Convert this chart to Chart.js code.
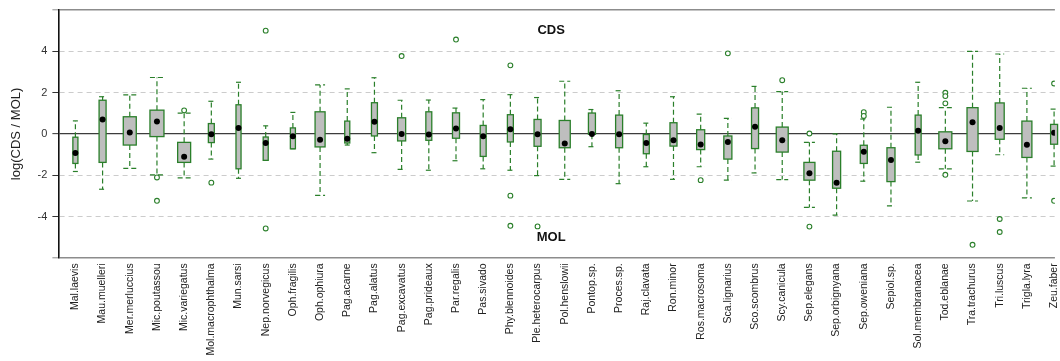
<!DOCTYPE html>
<html>
<head>
<meta charset="utf-8">
<script src="https://cdn.jsdelivr.net/npm/chart.js@4.4.1/dist/chart.umd.min.js"></script>
<style>
  html, body { margin: 0; padding: 0; background: #ffffff; overflow: hidden; }
  canvas { display: block; }
</style>
</head>
<body>
<canvas id="c" width="1060" height="361"></canvas>
<script>
// Species (x categories)
const species = [
  'Mal.laevis', 'Mau.muelleri', 'Mer.merluccius', 'Mic.poutassou', 'Mic.variegatus',
  'Mol.macrophthalma', 'Mun.sarsi', 'Nep.norvegicus', 'Oph.fragilis', 'Oph.ophiura',
  'Pag.acarne', 'Pag.alatus', 'Pag.excavatus', 'Pag.prideaux', 'Par.regalis',
  'Pas.sivado', 'Phy.blennoides', 'Ple.heterocarpus', 'Pol.henslowii', 'Pontop.sp.',
  'Proces.sp.', 'Raj.clavata', 'Ron.minor', 'Ros.macrosoma', 'Sca.lignarius',
  'Sco.scombrus', 'Scy.canicula', 'Sep.elegans', 'Sep.orbignyana', 'Sep.oweniana',
  'Sepiol.sp.', 'Sol.membranacea', 'Tod.eblanae', 'Tra.trachurus', 'Tri.luscus',
  'Trigla.lyra', 'Zeu.faber'
];

// Box statistics of log(CDS/MOL) per species
const lowerWhisker = [
  -1.82, -2.68, -1.67, -1.98, -2.13, -1.22, -2.15, -1.28, -0.72, -2.98,
  -0.54, -0.91, -1.72, -1.76, -1.30, -1.69, -1.76, -2.02, -2.20, -0.62,
  -2.41, -1.59, -2.20, -1.59, -2.24, -1.89, -2.21, -3.56, -3.93, -2.29,
  -3.49, -1.37, -1.69, -3.25, -1.01, -3.10, -1.56
];
const lowerHinge = [
  -1.43, -1.38, -0.54, -0.13, -1.38, -0.42, -1.69, -1.28, -0.72, -0.63,
  -0.44, -0.10, -0.34, -0.31, -0.21, -1.09, -0.39, -0.60, -0.67, -0.02,
  -0.67, -0.96, -0.59, -0.76, -1.22, -0.71, -0.88, -2.24, -2.63, -1.43,
  -2.31, -1.02, -0.72, -0.85, -0.26, -1.14, -0.50
];
const upperHinge = [
  -0.16, 1.63, 0.83, 1.15, -0.41, 0.50, 1.41, -0.15, 0.29, 1.07,
  0.62, 1.51, 0.78, 1.07, 1.02, 0.41, 0.93, 0.70, 0.65, 1.01,
  0.91, -0.03, 0.54, 0.20, -0.10, 1.26, 0.33, -1.38, -0.84, -0.55,
  -0.67, 0.91, 0.10, 1.27, 1.50, 0.62, 0.46
];
const upperWhisker = [
  0.63, 1.80, 1.89, 2.73, 1.01, 1.58, 2.50, 0.39, 1.04, 2.37,
  2.18, 2.72, 1.63, 1.64, 1.25, 1.66, 1.90, 1.76, 2.55, 1.18,
  2.09, 0.52, 1.80, 0.96, 0.75, 2.30, 2.05, -0.41, 0.00, 0.72,
  1.29, 2.50, 1.27, 4.00, 3.87, 2.21, 1.20
];
const means = [
  -0.93, 0.70, 0.07, 0.60, -1.11, -0.02, 0.29, -0.44, -0.11, -0.28,
  -0.24, 0.59, 0.00, -0.03, 0.26, -0.11, 0.23, -0.02, -0.47, 0.00,
  -0.02, -0.44, -0.31, -0.51, -0.39, 0.35, -0.31, -1.90, -2.36, -0.86,
  -1.27, 0.15, -0.36, 0.57, 0.28, -0.52, 0.05
];
// Number of observations per species (sets box width)
const sampleSizes = [
  13, 25, 86, 100, 86, 18, 13, 13, 13, 51,
  13, 18, 33, 18, 25, 18, 18, 25, 62, 25,
  25, 18, 25, 33, 33, 25, 73, 62, 33, 25,
  33, 18, 86, 62, 41, 51, 25
];
const outliers = [
  [], [], [], [-2.11, -3.24], [1.14], [-2.36], [], [5.00, -4.58], [], [],
  [], [], [3.77], [], [4.57], [], [3.32, -2.99, -4.45], [-4.48], [], [],
  [], [], [], [-2.24], [3.90], [], [2.60], [0.02, -4.49], [], [1.05, 0.87],
  [], [], [1.99, 1.83, 1.48, -1.98], [-5.37], [-4.12, -4.75], [], [2.44, -3.24]
];
const yTickValues = [-6, -4, -2, 0, 2, 4, 6];

const FONT = '"Liberation Sans", Arial, Helvetica, sans-serif';
const X_MIN = 0.374;
const X_MAX = 37.03;
const BOX_MAX_WIDTH = 0.515; // in x units, for the largest sample
const maxN = Math.max(...sampleSizes);
const GREEN = '#2a7f2a';

// Draws whiskers, staples and boxes on the chart's scales
const boxPlotPlugin = {
  id: 'boxPlot',
  beforeDatasetsDraw(chart) {
    const { ctx } = chart;
    const xs = chart.scales.x, ys = chart.scales.y;
    const line = (x1, y1, x2, y2) => { ctx.beginPath(); ctx.moveTo(x1, y1); ctx.lineTo(x2, y2); ctx.stroke(); };
    ctx.save();
    species.forEach((name, i) => {
      const pos = i + 1;
      const w = BOX_MAX_WIDTH * Math.sqrt(sampleSizes[i] / maxN);
      const left = xs.getPixelForValue(pos - w / 2);
      const right = xs.getPixelForValue(pos + w / 2);
      const cx = xs.getPixelForValue(pos);
      const yLo = ys.getPixelForValue(lowerWhisker[i]);
      const yQ1 = ys.getPixelForValue(lowerHinge[i]);
      const yQ3 = ys.getPixelForValue(upperHinge[i]);
      const yHi = ys.getPixelForValue(upperWhisker[i]);

      ctx.strokeStyle = GREEN;
      ctx.lineWidth = 1.2;
      ctx.setLineDash([5, 3]);
      line(cx, yQ3, cx, yHi);
      line(cx, yQ1, cx, yLo);
      line(left, yHi, right, yHi);
      line(left, yLo, right, yLo);

      ctx.setLineDash([]);
      ctx.fillStyle = '#bebebe';
      ctx.fillRect(left, yQ3, right - left, yQ1 - yQ3);
      ctx.lineWidth = 1.3;
      ctx.strokeRect(left, yQ3, right - left, yQ1 - yQ3);
    });

    ctx.fillStyle = '#111';
    ctx.font = 'bold 13px ' + FONT;
    ctx.textAlign = 'center';
    ctx.textBaseline = 'middle';
    ctx.fillText('CDS', xs.getPixelForValue(18.5), ys.getPixelForValue(5));
    ctx.fillText('MOL', xs.getPixelForValue(18.5), ys.getPixelForValue(-5));
    ctx.restore();
  }
};

const tickVal = c => (c.tick ? c.tick.value : null);

new Chart(document.getElementById('c'), {
  type: 'scatter',
  data: {
    datasets: [
      {
        label: 'mean',
        data: means.map((v, i) => ({ x: i + 1, y: v })),
        pointRadius: 3,
        pointBackgroundColor: '#000',
        pointBorderColor: '#000',
        pointBorderWidth: 0
      },
      {
        label: 'outliers',
        data: outliers.flatMap((arr, i) => arr.map(v => ({ x: i + 1, y: v }))),
        pointRadius: 2.4,
        pointBackgroundColor: '#ffffff',
        pointBorderColor: GREEN,
        pointBorderWidth: 1.1
      }
    ]
  },
  options: {
    responsive: false,
    animation: false,
    devicePixelRatio: 1,
    layout: { padding: { left: 0, right: 0, top: 10, bottom: 0 } },
    plugins: { legend: { display: false }, tooltip: { enabled: false } },
    scales: {
      x: {
        type: 'linear',
        min: X_MIN,
        max: X_MAX,
        afterBuildTicks: s => { s.ticks = species.map((_, i) => ({ value: i + 1 })); },
        afterFit: s => { s.paddingLeft = 0; s.paddingRight = 0; },
        grid: { display: false, drawTicks: false },
        border: { display: false },
        ticks: {
          autoSkip: false,
          minRotation: 90,
          maxRotation: 90,
          padding: 5.5,
          color: '#222',
          font: { family: FONT, size: 10.5 },
          callback: v => species[v - 1]
        }
      },
      y: {
        min: -6,
        max: 6,
        afterBuildTicks: s => { s.ticks = yTickValues.map(v => ({ value: v })); },
        afterFit: s => { s.paddingTop = 0; s.paddingBottom = 0; },
        grid: {
          color: c => { const v = tickVal(c); return Math.abs(v) === 6 ? '#8c8c8c' : (v === 0 ? '#3c3c3c' : '#cccccc'); },
          lineWidth: c => { const v = tickVal(c); return Math.abs(v) === 6 ? 1.6 : (v === 0 ? 1.3 : 1); },
          tickLength: 6,
          tickColor: c => (Math.abs(tickVal(c)) === 6 ? '#8c8c8c' : '#333333'),
          tickWidth: 1
        },
        border: {
          display: true,
          color: '#111111',
          width: 1.6,
          dash: c => { const v = tickVal(c); return (v === null || v === 0 || Math.abs(v) === 6) ? [] : [5, 4]; }
        },
        ticks: {
          padding: 5,
          color: '#333',
          font: { family: FONT, size: 11 },
          callback: v => (Math.abs(v) === 6 ? '' : String(v))
        },
        title: {
          display: true,
          text: 'log(CDS / MOL)',
          color: '#222',
          font: { family: FONT, size: 13 },
          padding: { top: 9, bottom: 8 }
        }
      }
    }
  },
  plugins: [boxPlotPlugin]
});
</script>
</body>
</html>
